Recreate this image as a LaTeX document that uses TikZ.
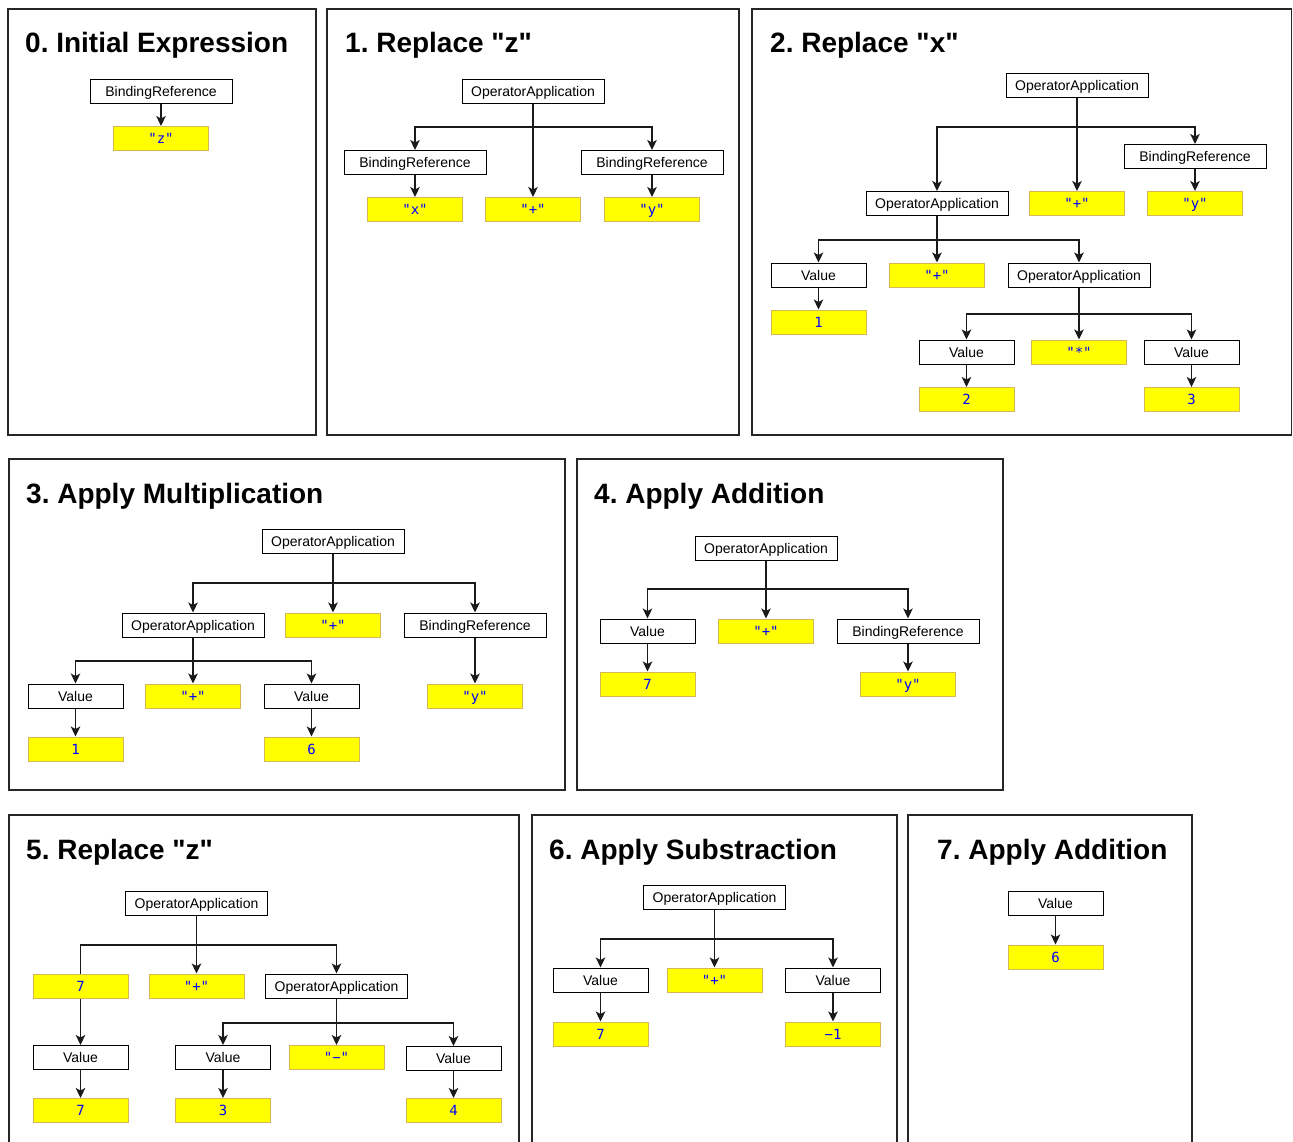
\documentclass[tikz,border=0pt]{standalone}
\usepackage{fontspec}
\newfontfamily\labelf{Liberation Sans}
\newfontfamily\monof{DejaVu Sans Mono}
\usetikzlibrary{arrows.meta}
\definecolor{litfill}{HTML}{FFFF00}
\definecolor{litline}{HTML}{D6B656}
\definecolor{littext}{HTML}{0000FF}
\definecolor{edgecol}{HTML}{1A1A1A}
\frenchspacing
\tikzset{
  panel/.style={draw=black!85, line width=1.3pt},
  title/.style={font=\labelf\fontsize{28}{32}\selectfont\bfseries, anchor=base west, inner sep=0pt},
  ast/.style={draw=black, line width=1pt, fill=white, minimum height=24pt, inner sep=0pt,
    text height=10pt, text depth=0pt, font=\labelf\fontsize{14}{16}\selectfont},
  wide/.style={ast, minimum width=142pt},
  narrow/.style={ast, minimum width=95pt},
  lit/.style={draw=litline, line width=1pt, fill=litfill, minimum width=95pt, minimum height=24pt,
    inner sep=0pt, text height=10pt, text depth=0pt, text=littext, font=\monof\fontsize{14}{16}\selectfont},
  conn/.style={draw=edgecol, line width=1.2pt, -{Stealth[length=10pt,width=9.5pt,inset=2.5pt]}},
}
\begin{document}
\begin{tikzpicture}[x=1pt,y=-1pt]
\useasboundingbox (0,0) rectangle (1293,1142);
\clip (0,0) rectangle (1293,1142);
\fill[white] (0,0) rectangle (1293,1142);

% frames of the eight steps
\draw[panel] (8,9) rectangle (316,435);
\draw[panel] (327,9) rectangle (739,435);
\draw[panel] (752,9) rectangle (1291.5,435);
\draw[panel] (9,459) rectangle (565,790);
\draw[panel] (577,459) rectangle (1003,790);
\draw[panel] (9,815) rectangle (519,1160);
\draw[panel] (532,815) rectangle (897,1160);
\draw[panel] (908,815) rectangle (1192,1160);

% step titles
\node[title] (t0) at (25,53) {0. Initial Expression};
\node[title] (t1) at (345,53) {1. Replace "z"};
\node[title] (t2) at (770,53) {2. Replace "x"};
\node[title] (t3) at (26,503) {3. Apply Multiplication};
\node[title] (t4) at (594,503) {4. Apply Addition};
\node[title] (t5) at (26,859) {5. Replace "z"};
\node[title] (t6) at (549,859) {6. Apply Substraction};
\node[title] (t7) at (937,859) {7. Apply Addition};

% ---- step 0
\node[wide] (p0br) at (161,91.5) {BindingReference};
\node[lit] (p0z) at (161,138.5) {"z"};
\draw[conn] (p0br) -- (p0z);

% ---- step 1
\node[wide] (p1op) at (533,91.5) {OperatorApplication};
\node[wide] (p1bx) at (415,162.5) {BindingReference};
\node[wide] (p1by) at (652,162.5) {BindingReference};
\node[lit] (p1x) at (415,209.5) {"x"};
\node[lit] (p1plus) at (533,209.5) {"+"};
\node[lit] (p1y) at (652,209.5) {"y"};
\coordinate (p1bar) at (533,127);
\draw[conn] (p1op) -- (p1op |- p1bar) -| (p1bx);
\draw[conn] (p1op) -- (p1plus);
\draw[conn] (p1op) -- (p1op |- p1bar) -| (p1by);
\draw[conn] (p1bx) -- (p1x);
\draw[conn] (p1by) -- (p1y);

% ---- step 2
\node[wide] (p2op) at (1077,85.5) {OperatorApplication};
\node[wide] (p2br) at (1195,156.5) {BindingReference};
\node[lit] (p2plus) at (1077,203.5) {"+"};
\node[lit] (p2y) at (1195,203.5) {"y"};
\node[wide] (p2opa) at (937,203.5) {OperatorApplication};
\node[narrow] (p2v1) at (818.5,275) {Value};
\node[lit] (p2plusb) at (937,275) {"+"};
\node[wide] (p2opb) at (1079,275) {OperatorApplication};
\node[lit] (p2one) at (818.5,322) {1};
\node[narrow] (p2v2) at (966.5,352) {Value};
\node[lit] (p2star) at (1079,352) {"*"};
\node[narrow] (p2v3) at (1191.5,352) {Value};
\node[lit] (p2two) at (966.5,399.5) {2};
\node[lit] (p2three) at (1191.5,399.5) {3};
\coordinate (p2bar) at (1077,127);
\coordinate (p2barb) at (937,240);
\coordinate (p2barc) at (1079,314);
\draw[conn] (p2op) -- (p2op |- p2bar) -| (p2opa);
\draw[conn] (p2op) -- (p2plus);
\draw[conn] (p2op) -- (p2op |- p2bar) -| (p2br);
\draw[conn] (p2br) -- (p2y);
\draw[conn] (p2opa) -- (p2opa |- p2barb) -| (p2v1);
\draw[conn] (p2opa) -- (p2plusb);
\draw[conn] (p2opa) -- (p2opa |- p2barb) -| (p2opb);
\draw[conn] (p2v1) -- (p2one);
\draw[conn] (p2opb) -- (p2opb |- p2barc) -| (p2v2);
\draw[conn] (p2opb) -- (p2star);
\draw[conn] (p2opb) -- (p2opb |- p2barc) -| (p2v3);
\draw[conn] (p2v2) -- (p2two);
\draw[conn] (p2v3) -- (p2three);

% ---- step 3
\node[wide] (p3op) at (333,541.5) {OperatorApplication};
\node[wide] (p3opa) at (193,625) {OperatorApplication};
\node[lit] (p3plus) at (333,625) {"+"};
\node[wide] (p3br) at (475,625) {BindingReference};
\node[narrow] (p3v1) at (75.5,696) {Value};
\node[lit] (p3plusb) at (193,696) {"+"};
\node[narrow] (p3v6) at (311.5,696) {Value};
\node[lit] (p3y) at (475,696) {"y"};
\node[lit] (p3one) at (75.5,749) {1};
\node[lit] (p3six) at (311.5,749) {6};
\coordinate (p3bar) at (333,583);
\coordinate (p3barb) at (193,661);
\draw[conn] (p3op) -- (p3op |- p3bar) -| (p3opa);
\draw[conn] (p3op) -- (p3plus);
\draw[conn] (p3op) -- (p3op |- p3bar) -| (p3br);
\draw[conn] (p3br) -- (p3y);
\draw[conn] (p3opa) -- (p3opa |- p3barb) -| (p3v1);
\draw[conn] (p3opa) -- (p3plusb);
\draw[conn] (p3opa) -- (p3opa |- p3barb) -| (p3v6);
\draw[conn] (p3v1) -- (p3one);
\draw[conn] (p3v6) -- (p3six);

% ---- step 4
\node[wide] (p4op) at (766,548) {OperatorApplication};
\node[narrow] (p4v) at (647.5,631) {Value};
\node[lit] (p4plus) at (766,631) {"+"};
\node[wide] (p4br) at (908,631) {BindingReference};
\node[lit] (p4seven) at (647.5,684) {7};
\node[lit] (p4y) at (908,684) {"y"};
\coordinate (p4bar) at (766,589);
\draw[conn] (p4op) -- (p4op |- p4bar) -| (p4v);
\draw[conn] (p4op) -- (p4plus);
\draw[conn] (p4op) -- (p4op |- p4bar) -| (p4br);
\draw[conn] (p4v) -- (p4seven);
\draw[conn] (p4br) -- (p4y);

% ---- step 5
\node[wide] (p5op) at (196.5,903.5) {OperatorApplication};
\node[lit] (p5plus) at (196.5,986) {"+"};
\node[wide] (p5opa) at (336.5,986) {OperatorApplication};
\node[narrow] (p5v7) at (80.5,1057.5) {Value};
\node[narrow] (p5v3) at (223,1057.5) {Value};
\node[lit] (p5minus) at (336.5,1057.5) {"−"};
\node[narrow] (p5v4) at (453.5,1058.5) {Value};
\node[lit] (p5sevenb) at (80.5,1110.5) {7};
\node[lit] (p5three) at (223,1110.5) {3};
\node[lit] (p5four) at (453.5,1110.5) {4};
\coordinate (p5bar) at (196.5,945);
\coordinate (p5barb) at (336.5,1023);
\draw[conn] (p5op) -- (p5op |- p5bar) -| (p5v7);
\draw[conn] (p5op) -- (p5plus);
\draw[conn] (p5op) -- (p5op |- p5bar) -| (p5opa);
\draw[conn] (p5opa) -- (p5opa |- p5barb) -| (p5v3);
\draw[conn] (p5opa) -- (p5minus);
\draw[conn] (p5opa) -- (p5opa |- p5barb) -| (p5v4);
\draw[conn] (p5v7) -- (p5sevenb);
\draw[conn] (p5v3) -- (p5three);
\draw[conn] (p5v4) -- (p5four);
% literal lying over the left connector
\node[lit] (p5seven) at (80.5,986) {7};

% ---- step 6
\node[wide] (p6op) at (714.5,897.5) {OperatorApplication};
\node[narrow] (p6v7) at (600.5,980) {Value};
\node[lit] (p6plus) at (714.5,980) {"+"};
\node[narrow] (p6vm) at (833,980) {Value};
\node[lit] (p6seven) at (600.5,1034) {7};
\node[lit] (p6mone) at (833,1034) {−1};
\coordinate (p6bar) at (714.5,939);
\draw[conn] (p6op) -- (p6op |- p6bar) -| (p6v7);
\draw[conn] (p6op) -- (p6plus);
\draw[conn] (p6op) -- (p6op |- p6bar) -| (p6vm);
\draw[conn] (p6v7) -- (p6seven);
\draw[conn] (p6vm) -- (p6mone);

% ---- step 7
\node[narrow] (p7v) at (1055.5,903) {Value};
\node[lit] (p7six) at (1055.5,957) {6};
\draw[conn] (p7v) -- (p7six);
\end{tikzpicture}
\end{document}
